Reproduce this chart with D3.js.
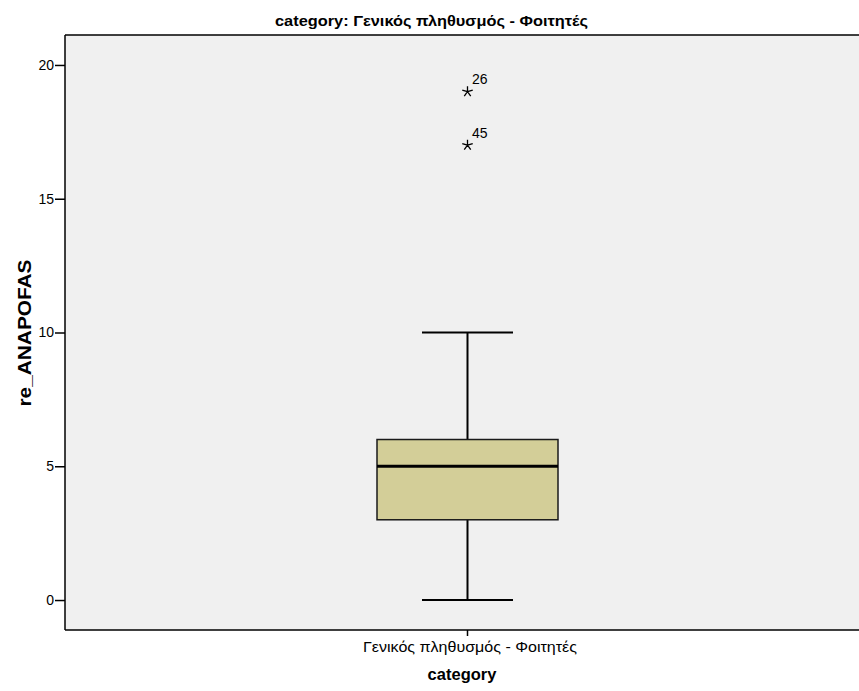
<!DOCTYPE html>
<html>
<head>
<meta charset="utf-8">
<script src="https://cdn.jsdelivr.net/npm/d3@7"></script>
<style>
  html, body { margin: 0; padding: 0; background: #ffffff; }
  svg { display: block; font-family: Arial, "Liberation Sans", sans-serif; }
</style>
</head>
<body>
<svg id="chart" width="859" height="691"></svg>
<script>
// Box plot summary for re_ANAPOFAS
const categories = ["Γενικός πληθυσμός - Φοιτητές"];
const whiskerLow = [0];
const q1 = [3];
const median = [5];
const q3 = [6];
const whiskerHigh = [10];
const outlierValues = [19, 17];
const outlierCases = ["26", "45"];
const yTicks = [0, 5, 10, 15, 20];

const svg = d3.select("#chart");
const plot = { left: 65, top: 35, right: 875, bottom: 630 };

const y = d3.scaleLinear().domain([-1.12, 21.12]).range([plot.bottom, plot.top]);
const x = d3.scaleBand().domain(categories).range([plot.left, 870]).padding(0);

// plot background
svg.append("rect")
  .attr("x", plot.left).attr("y", plot.top)
  .attr("width", plot.right - plot.left).attr("height", plot.bottom - plot.top)
  .attr("fill", "#f0f0f0");

// frame lines (top, left, bottom)
const frame = svg.append("g").attr("stroke", "#000").attr("stroke-width", 1.5);
frame.append("line").attr("x1", plot.left).attr("x2", plot.right).attr("y1", plot.top).attr("y2", plot.top);
frame.append("line").attr("x1", plot.left).attr("x2", plot.right).attr("y1", plot.bottom).attr("y2", plot.bottom);
frame.append("line").attr("x1", plot.left).attr("x2", plot.left).attr("y1", plot.top).attr("y2", plot.bottom);

// y axis
const yAxis = svg.append("g")
  .attr("transform", `translate(${plot.left},0)`)
  .call(d3.axisLeft(y).tickValues(yTicks).tickSize(10).tickPadding(1).tickFormat(d3.format("d")));
yAxis.select(".domain").remove();
yAxis.selectAll(".tick line").attr("stroke", "#000").attr("stroke-width", 1.5);
yAxis.selectAll(".tick text").attr("font-size", 14).attr("fill", "#000")
  .attr("font-family", "Arial, 'Liberation Sans', sans-serif");

// x axis
const xAxis = svg.append("g")
  .attr("transform", `translate(0,${plot.bottom})`)
  .call(d3.axisBottom(x).tickSize(6).tickPadding(6));
xAxis.select(".domain").remove();
xAxis.selectAll(".tick line").attr("stroke", "#000").attr("stroke-width", 1.5);
xAxis.selectAll(".tick text").attr("font-size", 14).attr("fill", "#000")
  .attr("font-family", "Arial, 'Liberation Sans', sans-serif")
  .attr("textLength", 214).attr("lengthAdjust", "spacingAndGlyphs")
  .attr("dx", 2.5);

// boxes
const boxW = 181, capW = 91;
const rows = categories.map((c, i) => ({
  c, lo: whiskerLow[i], q1: q1[i], med: median[i], q3: q3[i], hi: whiskerHigh[i]
}));
const g = svg.append("g");
rows.forEach(r => {
  const cx = x(r.c) + x.bandwidth() / 2;
  g.append("line").attr("x1", cx).attr("x2", cx).attr("y1", y(r.lo)).attr("y2", y(r.hi))
    .attr("stroke", "#000").attr("stroke-width", 2);
  [r.lo, r.hi].forEach(v => {
    g.append("line").attr("x1", cx - capW / 2).attr("x2", cx + capW / 2)
      .attr("y1", y(v)).attr("y2", y(v)).attr("stroke", "#000").attr("stroke-width", 2);
  });
  g.append("rect")
    .attr("x", cx - boxW / 2).attr("y", y(r.q3))
    .attr("width", boxW).attr("height", y(r.q1) - y(r.q3))
    .attr("fill", "#d3ce98").attr("stroke", "#1a1a1a").attr("stroke-width", 1.5);
  g.append("line").attr("x1", cx - boxW / 2).attr("x2", cx + boxW / 2)
    .attr("y1", y(r.med)).attr("y2", y(r.med)).attr("stroke", "#000").attr("stroke-width", 3);

  // extreme values drawn as asterisks with case numbers
  outlierValues.forEach((v, k) => {
    const py = y(v);
    const arms = d3.range(5).map(j => {
      const a = (-90 + j * 72) * Math.PI / 180;
      return `M${cx},${py}L${cx + 5.5 * Math.cos(a)},${py + 5.5 * Math.sin(a)}`;
    }).join("");
    g.append("path").attr("d", arms).attr("stroke", "#000").attr("stroke-width", 1.3).attr("fill", "none");
    g.append("text").attr("x", cx + 4.5).attr("y", py - 7.5)
      .attr("font-size", 14).attr("fill", "#000").text(outlierCases[k]);
  });
});

// title and axis titles
svg.append("text").attr("x", 275).attr("y", 26)
  .attr("font-size", 14).attr("font-weight", "bold")
  .attr("textLength", 313).attr("lengthAdjust", "spacingAndGlyphs")
  .text("category: Γενικός πληθυσμός - Φοιτητές");
svg.append("text").attr("x", 462).attr("y", 680).attr("text-anchor", "middle")
  .attr("font-size", 16.5).attr("font-weight", "bold").text("category");
svg.append("text").attr("transform", `translate(31,333) rotate(-90)`)
  .attr("text-anchor", "middle")
  .attr("font-size", 19).attr("font-weight", "bold")
  .attr("textLength", 147).attr("lengthAdjust", "spacingAndGlyphs")
  .text("re_ANAPOFAS");
</script>
</body>
</html>
